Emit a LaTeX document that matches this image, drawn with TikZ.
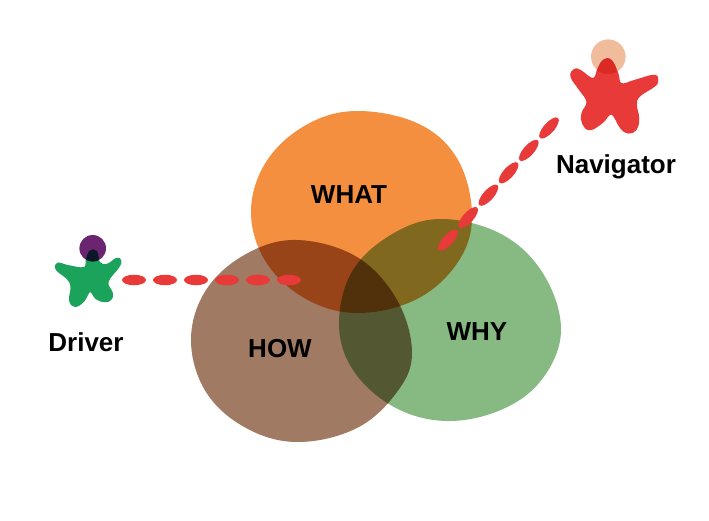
\documentclass[tikz,border=0pt]{standalone}
\usepackage{fontspec}
\setmainfont{Liberation Sans}
\usetikzlibrary{calc,shapes.geometric}
\definecolor{whatcol}{HTML}{F38F3E}
\definecolor{whycol}{HTML}{87BA82}
\definecolor{howcol}{HTML}{A07A63}
\definecolor{dashcol}{HTML}{E93A3A}
\definecolor{drivercol}{HTML}{1BA35B}
\definecolor{driverhead}{HTML}{6A2470}
\definecolor{navhead}{HTML}{F0BC9C}
\tikzset{
  lbl/.style={font=\fontsize{26}{30}\selectfont\bfseries,text=black,inner sep=0pt},
  dashmark/.style={ellipse,fill=dashcol,inner sep=0pt,minimum width=#1,minimum height=10.5pt},
  dashmark/.default=24pt,
  blob/.style={smooth cycle,tension=0.63},
  figure/.style={smooth cycle,tension=0.7},
  fat/.style={line width=2.5pt,line join=round}
}
\begin{document}
\begin{tikzpicture}[x=1pt,y=-1pt]
  \useasboundingbox (0,0) rectangle (709,520);
  \begin{scope}[blend group=multiply]
    \fill[whatcol] plot[blob] coordinates {(472,216) (458,160) (419,124) (357,111) (306,125) (266,162) (251,212) (266,262) (306,299) (358,313) (417,299) (458,262)};
    \fill[whycol] plot[blob] coordinates {(561,330) (544,275) (503,235) (443,219) (394,233) (353,270) (339,323) (353,370) (394,407) (447,421) (503,409) (543,378)};
    \fill[howcol] plot[blob] coordinates {(412,353) (397,300) (357,257) (297,240) (246,254) (206,290) (191,340) (206,392) (246,428) (298,442) (357,428) (397,392)};
    \fill[driverhead] (92.7,248.3) circle (13.3);
    \begin{scope}[transparency group]
      \filldraw[drivercol,fat] plot[figure] coordinates {(90,252) (96,252) (99,263) (107.3,265) (116.7,259) (120,261) (118,267) (107.3,281.7) (111.7,293.3) (110.3,299) (105,301) (96.7,298.3) (90,290.7) (83.3,300.7) (75,305.7) (70.3,300) (71.7,286.7) (67.7,278.3) (57,269.3) (58.3,263.7) (66.7,266) (84.3,268.3) (87,260)};
    \end{scope}
    \fill[navhead] (608.3,56.7) circle (17.3);
    \begin{scope}[transparency group]
      \filldraw[dashcol,fat] plot[figure] coordinates {(604,60.5) (611,61) (617,73.3) (621,84.3) (635,81) (653.3,76) (657,80) (654,85.7) (639,95.7) (635.7,105) (638,118.3) (635.7,129) (628.3,132.3) (621,127.3) (611.7,113.3) (601.7,122.3) (590,129) (583.3,123.3) (582.7,113.3) (587.7,101.7) (579.3,88.3) (571.7,76.7) (574.3,70.3) (580,71) (593.3,79.3) (599,68)};
    \end{scope}
  \end{scope}
  \coordinate (drvstart) at (134,280);
  \coordinate (drvend) at (289,280);
  \coordinate (navstart) at (549,128);
  \coordinate (navend) at (448,240);
  \foreach \i in {0,...,5}
    \node[dashmark] (drv\i) at ($(drvstart)!\i/5!(drvend)$) {};
  \foreach \i in {0,...,5}
    \node[dashmark=27pt,rotate=48] (nav\i) at ($(navstart)!\i/5!(navend)$) {};
  \node[lbl] (what) at (349,195) {WHAT};
  \node[lbl] (why) at (477,332) {WHY};
  \node[lbl] (how) at (280,349) {HOW};
  \node[lbl] (driver) at (86,342) {Driver};
  \node[lbl] (navigator) at (616,167) {Navigator};
\end{tikzpicture}
\end{document}
